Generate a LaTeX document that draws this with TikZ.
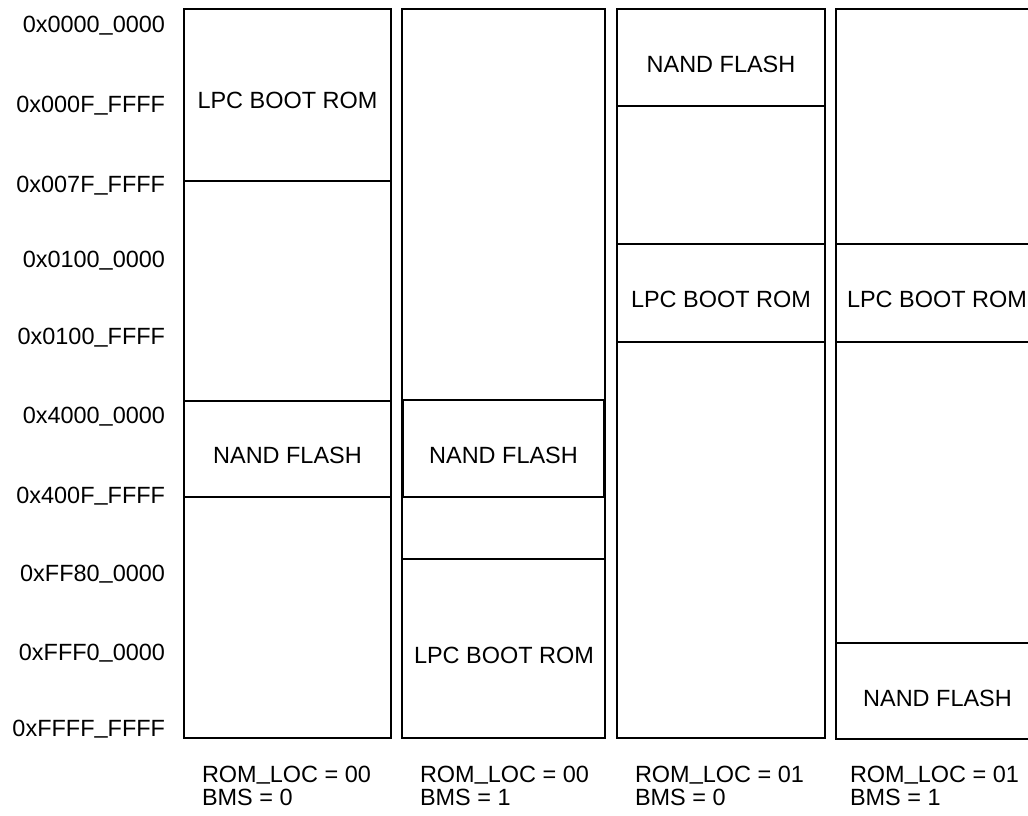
\documentclass[tikz,border=0pt]{standalone}
\usepackage{fontspec}
\setmainfont{Liberation Sans}
\newcommand{\usc}{\raisebox{0.12em}{\_}}
\begin{document}
\begin{tikzpicture}[x=0.75pt,y=-0.75pt,
  every node/.style={inner sep=0pt,outer sep=0pt,font=\fontsize{17.6}{21}\selectfont},
  memline/.style={line width=1.25pt,black},
  addr/.style={anchor=base east},
  region/.style={anchor=base},
  cfg/.style={anchor=base west}]
\useasboundingbox (0,0) rectangle (1028,816);
\clip (0,0) rectangle (1028,816);
% address labels
\node[addr] (a0) at (165,33) {0x0000\usc0000};
\node[addr] (a1) at (165,113) {0x000F\usc FFFF};
\node[addr] (a2) at (165,193) {0x007F\usc FFFF};
\node[addr] (a3) at (165,268) {0x0100\usc0000};
\node[addr] (a4) at (165,345) {0x0100\usc FFFF};
\node[addr] (a5) at (165,424) {0x4000\usc0000};
\node[addr] (a6) at (165,503) {0x400F\usc FFFF};
\node[addr] (a7) at (165,581) {0xFF80\usc0000};
\node[addr] (a8) at (165,660) {0xFFF0\usc0000};
\node[addr] (a9) at (165,736) {0xFFFF\usc FFFF};
% column 1
\draw[memline] (184,9) rectangle (391,738);
\draw[memline] (184,181) -- (391,181);
\draw[memline] (184,401) -- (391,401);
\draw[memline] (184,497) -- (391,497);
\node[region] (c1lpc) at (287.5,109) {LPC BOOT ROM};
\node[region] (c1nand) at (287.5,463) {NAND FLASH};
% column 2
\draw[memline] (402,9) rectangle (605,738);
\draw[memline] (403,400) rectangle (604,497);
\draw[memline] (402,559) -- (605,559);
\node[region] (c2nand) at (503.5,463) {NAND FLASH};
\node[region] (c2lpc) at (504,663) {LPC BOOT ROM};
% column 3
\draw[memline] (617,9) rectangle (825,738);
\draw[memline] (617,106) -- (825,106);
\draw[memline] (617,244) -- (825,244);
\draw[memline] (617,342) -- (825,342);
\node[region] (c3nand) at (721,73) {NAND FLASH};
\node[region] (c3lpc) at (721,308) {LPC BOOT ROM};
% column 4
\draw[memline] (836,9) rectangle (1040,739);
\draw[memline] (836,244) -- (1040,244);
\draw[memline] (836,342) -- (1040,342);
\draw[memline] (836,643) -- (1040,643);
\node[region] (c4lpc) at (937,308) {LPC BOOT ROM};
\node[region] (c4nand) at (937.5,706) {NAND FLASH};
% configuration labels
\node[cfg] (r1) at (202,782) {ROM\usc LOC = 00};
\node[cfg] (b1) at (202,805) {BMS = 0};
\node[cfg] (r2) at (420,782) {ROM\usc LOC = 00};
\node[cfg] (b2) at (420,805) {BMS = 1};
\node[cfg] (r3) at (635,782) {ROM\usc LOC = 01};
\node[cfg] (b3) at (635,805) {BMS = 0};
\node[cfg] (r4) at (850,782) {ROM\usc LOC = 01};
\node[cfg] (b4) at (850,805) {BMS = 1};
\end{tikzpicture}
\end{document}
